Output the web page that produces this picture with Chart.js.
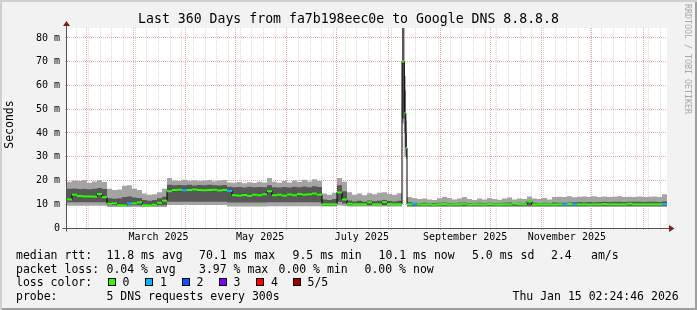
<!DOCTYPE html>
<html>
<head>
<meta charset="utf-8">
<script src="https://cdn.jsdelivr.net/npm/chart.js@4.4.1/dist/chart.umd.min.js"></script>
<style>
  body { margin: 0; }
  #wrap {
    position: relative; width: 697px; height: 310px; overflow: hidden;
    background: #f2f2f2;
    box-shadow: inset 2px 2px 0 #cfcfcf, inset -2px -2px 0 #9e9e9e;
    font-family: 'DejaVu Sans Mono', monospace; font-size: 11.5px; color: #000;
  }
  #chart { position: absolute; left: 0; top: 0; }
  .t { position: absolute; white-space: pre; line-height: 14px; }
  .box { position: absolute; top: 278px; width: 6px; height: 6px; border: 1px solid #000; }
  #title { position: absolute; left: 0; width: 697px; top: 11px; text-align: center; font-size: 13.2px; line-height: 16px; white-space: pre; }
  #mark {
    position: absolute; left: 683px; top: 4px; writing-mode: vertical-rl;
    font-size: 8.3px; color: #a8a8a8; white-space: pre;
  }
</style>
</head>
<body>
<div id="wrap">
  <canvas id="chart" width="697" height="310"></canvas>
  <div id="title">Last 360 Days from fa7b198eec0e to Google DNS 8.8.8.8</div>
  <div id="mark">RRDTOOL / TOBI OETIKER</div>

  <span class="t" style="left:16px;top:248px">median rtt:</span>
  <span class="t" style="left:106.5px;top:248px">11.8 ms avg</span>
  <span class="t" style="left:199px;top:248px">70.1 ms max</span>
  <span class="t" style="left:292.5px;top:248px">9.5 ms min</span>
  <span class="t" style="left:378.5px;top:248px">10.1 ms now</span>
  <span class="t" style="left:472px;top:248px">5.0 ms sd</span>
  <span class="t" style="left:551px;top:248px">2.4</span>
  <span class="t" style="left:591px;top:248px">am/s</span>

  <span class="t" style="left:16px;top:261.5px">packet loss:</span>
  <span class="t" style="left:106.5px;top:261.5px">0.04 % avg</span>
  <span class="t" style="left:199px;top:261.5px">3.97 % max</span>
  <span class="t" style="left:278.5px;top:261.5px">0.00 % min</span>
  <span class="t" style="left:364.5px;top:261.5px">0.00 % now</span>

  <span class="t" style="left:16px;top:275px">loss color:</span>
  <span class="box" style="left:108px;background:#26ff00"></span><span class="t" style="left:122.5px;top:275px">0</span>
  <span class="box" style="left:145px;background:#00b8ff"></span><span class="t" style="left:160px;top:275px">1</span>
  <span class="box" style="left:182px;background:#0059ff"></span><span class="t" style="left:196.5px;top:275px">2</span>
  <span class="box" style="left:219px;background:#7e00ff"></span><span class="t" style="left:233.5px;top:275px">3</span>
  <span class="box" style="left:256px;background:#ff0000"></span><span class="t" style="left:271px;top:275px">4</span>
  <span class="box" style="left:293px;background:#a00000"></span><span class="t" style="left:307.5px;top:275px">5/5</span>

  <span class="t" style="left:16px;top:288.5px">probe:</span>
  <span class="t" style="left:106.5px;top:288.5px">5 DNS requests every 300s</span>
  <span class="t" style="left:512.5px;top:288.5px">Thu Jan 15 02:24:46 2026</span>
</div>

<script>
// SmokePing style graph, last 360 days, one sample every 3 days (finer around the July spike)
const START = Date.UTC(2025, 0, 20, 2, 24, 46);
const DAY = 86400000;
const toDay = (y, m, d) => (Date.UTC(y, m, d) - START) / DAY;

// sample start days
const sampleDay = [];
for (let d = 0; d <= 198; d += 3) sampleDay.push(d);
sampleDay.push(201, 202.4, 203.3);
for (let d = 204; d <= 357; d += 3) sampleDay.push(d);

// median rtt (ms)
const median = [
  12.0, 14.0, 13.5, 13.3, 13.3, 13.2, 14.3, 13.0, 10.2, 10.4, 9.6, 9.5, 10.3, 10.4, 10.8, 9.6, 9.5, 9.8, 10.6, 11.5,
  15.5, 16.0, 16.1, 15.9, 16.0, 16.2, 16.0, 15.9, 16.0, 16.1, 15.8, 16.0,
  15.6, 13.8, 13.6, 13.9, 13.5, 14.0, 13.8, 14.2,
  15.5, 13.8, 14.0, 13.6, 14.1, 13.8, 14.3, 14.0, 14.2, 14.5, 14.0,
  10.0, 10.0, 10.0, 15.0, 12.0,
  10.2, 10.0, 10.0, 10.0, 10.8, 10.0, 10.0, 10.9, 10.1, 10.0, 10.0,
  70.1, 48.5, 33.8,
  10.0, 10.2, 10.0, 9.9, 10.0, 9.8, 10.0, 10.1, 9.9, 10.0, 10.0, 10.2, 9.9,
  10.0, 10.0, 9.9, 10.1, 10.0, 9.9, 10.0, 10.0, 10.3, 10.1, 10.0, 11.2, 9.9,
  10.0, 10.0, 10.0, 9.9, 10.0, 10.0, 10.1, 10.0, 10.0, 10.0, 9.9, 10.0, 10.0,
  10.1, 10.0, 10.0, 10.0, 10.0, 10.2, 10.0, 10.0, 10.0, 10.0, 10.0, 10.0, 10.1
];

// highest of the 5 pings
const smokeHi = [
  19.5, 20.0, 19.8, 20.2, 19.0, 19.6, 20.2, 19.4, 16.5, 16.0, 16.2, 17.8, 18.0, 16.5, 16.0, 14.5, 14.0, 14.2, 15.0, 16.5,
  21.0, 20.0, 19.8, 20.3, 19.9, 20.1, 19.8, 20.0, 20.2, 19.7, 20.0, 20.2,
  19.2, 19.0, 19.4, 18.8, 19.3, 19.0, 19.5, 19.2,
  21.0, 19.5, 19.0, 19.8, 19.2, 20.0, 19.4, 20.3, 19.6, 20.5, 19.8,
  14.5, 14.0, 14.8, 21.0, 19.5,
  15.0, 14.0, 14.5, 13.8, 14.6, 14.2, 14.8, 15.0, 14.4, 14.0, 14.6,
  84.2, 64.0, 45.0,
  13.0, 12.6, 12.2, 12.4, 12.0, 11.8, 12.5, 13.2, 12.6, 12.0, 12.4, 13.0, 12.2,
  11.8, 12.4, 12.0, 12.6, 12.2, 11.9, 12.4, 12.8, 12.0, 12.4, 12.2, 13.3, 12.4,
  12.2, 12.6, 12.0, 13.0, 13.2, 13.0, 13.4, 12.9, 13.2, 13.3, 13.0, 13.4, 13.1,
  13.3, 13.0, 13.2, 13.4, 13.0, 13.2, 13.1, 13.3, 13.0, 13.2, 13.3, 13.0, 14.2
];

// 4th of the 5 pings
const coreHi = [
  16.5, 16.6, 16.4, 16.5, 16.3, 16.5, 16.8, 16.4, 12.5, 12.3, 12.5, 13.0, 13.3, 12.8, 12.6, 11.8, 11.5, 11.8, 12.5, 13.2,
  18.2, 18.0, 18.1, 18.0, 18.2, 17.9, 18.1, 18.0, 18.2, 18.0, 17.9, 18.1,
  17.4, 17.2, 17.3, 17.1, 17.4, 17.2, 17.3, 17.2,
  18.0, 17.2, 17.0, 17.3, 17.1, 17.4, 17.2, 17.5, 17.2, 17.6, 17.3,
  12.0, 11.8, 12.2, 18.0, 15.5,
  11.6, 11.2, 11.5, 11.0, 11.6, 11.3, 11.5, 11.8, 11.4, 11.2, 11.5,
  84.2, 58.0, 40.0,
  10.8, 10.6, 10.5, 10.6, 10.4, 10.5, 10.6, 10.7, 10.5, 10.4, 10.6, 10.7, 10.5,
  10.4, 10.6, 10.5, 10.6, 10.5, 10.4, 10.6, 10.7, 10.5, 10.6, 10.5, 11.2, 10.6,
  10.5, 10.6, 10.5, 10.7, 10.6, 10.6, 10.7, 10.8, 10.9, 10.8, 10.9, 10.8, 10.9,
  11.0, 10.9, 11.0, 11.1, 10.9, 11.0, 11.0, 11.1, 10.9, 11.0, 11.0, 10.9, 11.2
];

// 2nd of the 5 pings
const coreLo = [
  10.8, 10.8, 10.8, 10.8, 10.8, 10.8, 10.8, 10.8, 9.6, 9.6, 9.6, 9.6, 9.6, 9.6, 9.6, 9.6, 9.6, 9.6, 9.6, 9.6,
  11.1, 11.1, 11.1, 11.1, 11.1, 11.1, 11.1, 11.1, 11.1, 11.1, 11.1, 11.1,
  10.7, 10.7, 10.7, 10.7, 10.7, 10.7, 10.7, 10.7,
  10.8, 10.8, 10.8, 10.8, 10.8, 10.8, 10.8, 10.8, 10.8, 10.8, 10.8,
  9.5, 9.5, 9.5, 11.0, 10.3,
  9.6, 9.6, 9.6, 9.6, 9.6, 9.6, 9.6, 9.6, 9.6, 9.6, 9.6,
  46.0, 40.0, 30.0,
  9.4, 9.4, 9.4, 9.4, 9.4, 9.4, 9.4, 9.4, 9.4, 9.4, 9.4, 9.4, 9.4,
  9.4, 9.4, 9.4, 9.4, 9.4, 9.4, 9.4, 9.4, 9.4, 9.4, 9.4, 9.4, 9.4,
  9.4, 9.4, 9.4, 9.4, 9.4, 9.4, 9.4, 9.4, 9.4, 9.4, 9.4, 9.4, 9.4,
  9.4, 9.4, 9.4, 9.4, 9.4, 9.4, 9.4, 9.4, 9.4, 9.4, 9.4, 9.4, 9.4
];

// lowest of the 5 pings
const smokeLo = [
  9.4, 9.4, 9.4, 9.4, 9.4, 9.4, 9.4, 9.4, 8.8, 8.8, 8.8, 8.8, 8.8, 8.8, 8.8, 8.8, 8.8, 8.8, 8.8, 8.8,
  9.7, 9.7, 9.7, 9.7, 9.7, 9.7, 9.7, 9.7, 9.7, 9.7, 9.7, 9.7,
  9.0, 9.0, 9.0, 9.0, 9.0, 9.0, 9.0, 9.0,
  9.2, 9.2, 9.2, 9.2, 9.2, 9.2, 9.2, 9.2, 9.2, 9.2, 9.2,
  9.0, 9.0, 9.0, 9.5, 9.3,
  9.1, 9.1, 9.1, 9.1, 9.1, 9.1, 9.1, 9.1, 9.1, 9.1, 9.1,
  44.0, 30.0, 29.0,
  8.8, 8.8, 8.8, 8.8, 8.8, 8.8, 8.8, 8.8, 8.8, 8.8, 8.8, 8.8, 8.8,
  8.8, 8.8, 8.8, 8.8, 8.8, 8.8, 8.8, 8.8, 8.8, 8.8, 8.8, 8.8, 8.8,
  8.8, 8.8, 8.8, 8.8, 8.8, 8.8, 8.8, 8.8, 8.8, 8.8, 8.8, 8.8, 8.8,
  8.8, 8.8, 8.8, 8.8, 8.8, 8.8, 8.8, 8.8, 8.8, 8.8, 8.8, 8.8, 8.8
];

// samples where 1 of 5 requests was lost
const loss1Days = [36, 69, 96, 207, 297, 303, 357];

const monthLabels = ['March 2025', 'May 2025', 'July 2025', 'September 2025', 'November 2025'];
const labelMonths = [[2025, 2], [2025, 4], [2025, 6], [2025, 8], [2025, 10]];

const GREEN = '#26ff00', BLUE = '#00b8ff';
const GRID = 'rgba(143,143,143,0.35)';
const MGRID = 'rgba(222,79,79,0.5)';
const NONE = 'rgba(0,0,0,0)';
const END = 360;

// grid positions: month starts, sundays, label centres (month + 15 days)
const monthStarts = [];
for (let m = 1; m <= 12; m++) monthStarts.push(toDay(2025, m, 1));
const sundays = [];
for (let d = toDay(2025, 0, 26); d < END; d += 7) sundays.push(d);
const labelDays = labelMonths.map(([y, m]) => toDay(y, m, 1) + 15);

const near = (list, v) => list.some(d => Math.abs(d - v) < 1e-6);

function xTicks() {
  const all = [...monthStarts, ...sundays, ...labelDays].sort((a, b) => a - b);
  const out = [];
  all.forEach(v => { if (!out.length || Math.abs(out[out.length - 1] - v) > 1e-6) out.push(v); });
  return out.map(v => ({ value: v }));
}

function xGridColor(v) {
  if (near(monthStarts, v)) return MGRID;
  if (near(sundays, v)) return GRID;
  return NONE;
}

function stepPoints(arr) {
  const pts = sampleDay.map((d, i) => ({ x: d, y: arr[i] }));
  pts.push({ x: END, y: arr[arr.length - 1] });
  return pts;
}

// green/blue median as flat pieces only, the black line below shows the jumps
function medianPieces() {
  const pts = [];
  sampleDay.forEach((d, i) => {
    const next = i + 1 < sampleDay.length ? sampleDay[i + 1] : END;
    const c = loss1Days.includes(d) ? BLUE : GREEN;
    pts.push({ x: d, y: median[i], c }, { x: next, y: median[i], c }, { x: next, y: null });
  });
  return pts;
}

const rrdFrame = {
  id: 'rrdFrame',
  beforeDraw(chart) {
    const { ctx, chartArea: a } = chart;
    ctx.save();
    ctx.fillStyle = '#fff';
    ctx.fillRect(a.left, a.top, a.right - a.left, a.bottom - a.top);
    ctx.restore();
  },
  afterDatasetsDraw(chart) {
    const { ctx, chartArea: a } = chart;
    const x0 = a.left - 0.5, y0 = a.bottom + 0.5;
    ctx.save();
    ctx.strokeStyle = '#555';
    ctx.lineWidth = 1;
    ctx.beginPath();
    ctx.moveTo(x0, y0 + 3); ctx.lineTo(x0, a.top - 4);
    ctx.moveTo(x0 - 4, y0); ctx.lineTo(a.right + 4, y0);
    ctx.stroke();
    ctx.fillStyle = '#801f1f';
    ctx.beginPath();
    ctx.moveTo(x0, a.top - 7); ctx.lineTo(x0 - 3.5, a.top - 2); ctx.lineTo(x0 + 3.5, a.top - 2);
    ctx.closePath(); ctx.fill();
    ctx.beginPath();
    ctx.moveTo(a.right + 7.5, y0); ctx.lineTo(a.right + 2, y0 - 3.5); ctx.lineTo(a.right + 2, y0 + 3.5);
    ctx.closePath(); ctx.fill();
    ctx.restore();
  }
};

const mono = size => ({ family: 'DejaVu Sans Mono', size, weight: 'normal' });
const flat = { pointRadius: 0, borderWidth: 0, stepped: 'before' };

new Chart(document.getElementById('chart'), {
  type: 'line',
  data: {
    datasets: [
      { data: medianPieces(), pointRadius: 0, borderWidth: 2, borderColor: GREEN,
        segment: { borderColor: c => c.p0.raw.c || GREEN } },
      { data: stepPoints(median), pointRadius: 0, borderWidth: 1, borderColor: '#000', stepped: 'before' },
      { data: stepPoints(coreHi), ...flat, fill: '+1', backgroundColor: '#585858' },
      { data: stepPoints(coreLo), ...flat },
      { data: stepPoints(smokeHi), ...flat, fill: '+1', backgroundColor: '#a4a4a4' },
      { data: stepPoints(smokeLo), ...flat }
    ]
  },
  options: {
    responsive: false,
    animation: false,
    devicePixelRatio: 1,
    layout: { padding: { left: 0, right: 30, top: 28, bottom: 65 } },
    plugins: {
      legend: { display: false },
      tooltip: { enabled: false },
      title: { display: false }
    },
    scales: {
      x: {
        type: 'linear', min: 0, max: END,
        afterBuildTicks: s => { s.ticks = xTicks(); },
        afterFit: s => { s.height = 17; },
        grid: { color: c => xGridColor(c.tick.value), drawTicks: true, tickLength: 2 },
        border: { display: false, dash: [1, 1] },
        ticks: {
          autoSkip: false, maxRotation: 0, minRotation: 0, padding: 1,
          color: '#000', font: mono(10),
          callback: v => { const i = labelDays.findIndex(d => Math.abs(d - v) < 1e-6); return i < 0 ? '' : monthLabels[i]; }
        }
      },
      y: {
        min: 0, max: 84.2,
        afterBuildTicks: s => { const t = []; for (let v = 0; v <= 80; v += 5) t.push({ value: v }); s.ticks = t; },
        afterFit: s => { s.width = 67; },
        grid: {
          color: c => { const v = c.tick.value; return v === 0 ? NONE : v % 10 === 0 ? MGRID : GRID; },
          drawTicks: true, tickLength: 2
        },
        border: { display: false, dash: [1, 1] },
        ticks: {
          padding: 5, color: '#000', font: mono(10),
          callback: v => v % 10 ? '' : v === 0 ? '0' : v + ' m'
        },
        title: { display: true, text: ' Seconds', color: '#000', font: mono(11.5), padding: { top: 3.6, bottom: 0 } }
      }
    }
  },
  plugins: [rrdFrame]
});
</script>
</body>
</html>
